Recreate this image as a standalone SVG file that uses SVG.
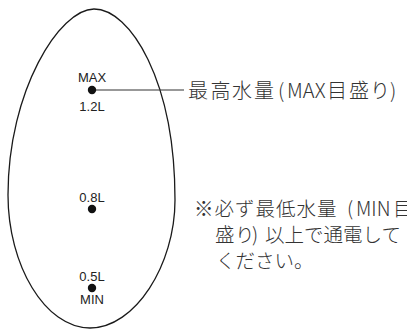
<svg xmlns="http://www.w3.org/2000/svg" width="407" height="329" viewBox="0 0 407 329">
<style>
.outline{fill:none;stroke:#1a1a1a;stroke-width:1.3}
.dot{fill:#111}
.lvl{font-family:"Liberation Sans",Arial,sans-serif;font-size:13px;fill:#222;text-anchor:middle}
.jp{font-family:"Noto Sans CJK JP","Noto Sans",sans-serif;font-size:20px;fill:#333;font-weight:300}
.note{font-family:"Noto Sans CJK JP","Noto Sans",sans-serif;font-size:19.5px;fill:#333;font-weight:300}
.lead{stroke:#333;stroke-width:1.2;fill:none}
</style>
<rect width="407" height="329" fill="#fff"/>
<g id="tank">
<path class="outline" d="M94,9 C130,9 175,80 175,200 C175,265 135,328 90,328 C45,328 8,265 8,195 C8,90 60,9 94,9 Z"/>
</g>
<g id="connectors">
<line class="lead" x1="92" y1="90" x2="184" y2="90"/>
</g>
<g id="max">
<text class="lvl" x="92" y="82">MAX</text>
<circle class="dot" cx="92" cy="90" r="4.2"/>
<text class="lvl" x="92" y="111">1.2L</text>
</g>
<g id="mid">
<text class="lvl" x="92" y="202">0.8L</text>
<circle class="dot" cx="92" cy="209" r="4.2"/>
</g>
<g id="min">
<text class="lvl" x="92" y="281">0.5L</text>
<circle class="dot" cx="92" cy="288" r="4.2"/>
<text class="lvl" x="92" y="304">MIN</text>
</g>
<g id="max-label">
<text class="jp" y="97.5"><tspan x="188">最</tspan><tspan x="210.5">高</tspan><tspan x="232">水</tspan><tspan x="254">量</tspan><tspan x="278">(</tspan><tspan x="287">MAX</tspan><tspan x="327">目</tspan><tspan x="349">盛</tspan><tspan x="370">り</tspan><tspan x="390">)</tspan></text>
</g>
<g id="note">
<text class="note" y="216"><tspan x="194">※</tspan><tspan x="214.5">必</tspan><tspan x="235">ず</tspan><tspan x="255.5">最</tspan><tspan x="276">低</tspan><tspan x="296.5">水</tspan><tspan x="317">量</tspan><tspan x="347">(</tspan><tspan x="356">MIN</tspan><tspan x="393">目</tspan></text>
<text class="note" y="242"><tspan x="215">盛</tspan><tspan x="235">り</tspan><tspan x="252">)</tspan><tspan x="265">以上で通電して</tspan></text>
<text class="note" y="268" x="216">ください。</text>
</g>
</svg>
